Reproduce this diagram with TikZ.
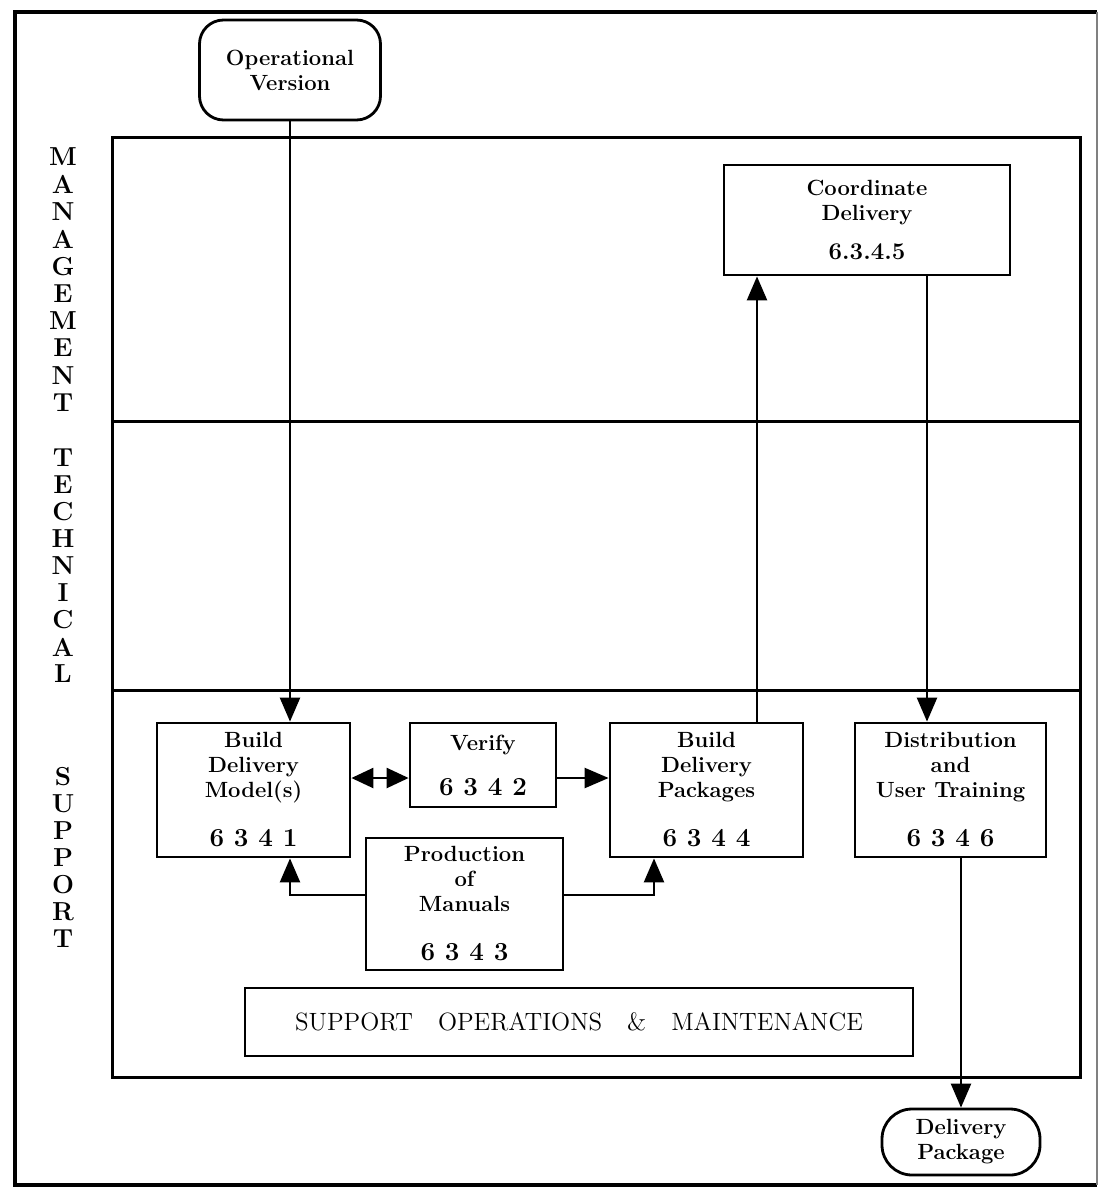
\documentclass[tikz,border=0pt]{standalone}
\usetikzlibrary{arrows.meta,calc}
\begin{document}
\begin{tikzpicture}[x=0.5pt,y=-0.5pt,
  frame/.style={line width=1.5pt},
  box/.style={draw,line width=1.4pt,align=center,inner sep=0pt,
    font=\fontsize{11}{12.5}\selectfont\bfseries},
  term/.style={box,rounded corners=12pt},
  flow/.style={line width=1.2pt,-{Triangle[length=12pt,width=10pt]}},
  both/.style={line width=1.2pt,
    {Triangle[length=11pt,width=10pt]}-{Triangle[length=11pt,width=10pt]}},
  side/.style={font=\fontsize{13}{14}\selectfont\bfseries,inner sep=0pt},
  num/.style={font=\fontsize{13}{14}\selectfont\bfseries}
]
\useasboundingbox (0,0) rectangle (1099,1189);
\newcommand{\pnum}[1]{{\fontsize{13}{14}\selectfont #1}}

% outer page frame
\draw[line width=2pt] (1097,12) -- (15,12) -- (15,1185) -- (1097,1185);
\draw[line width=0.6pt,gray] (1097,12) -- (1097,1185);

% swim lanes
\draw[frame] (112,137) rectangle (1080,1077);
\draw[frame] (112,421) -- (1080,421);
\draw[frame] (112,690) -- (1080,690);

% lane titles, one letter per row
\foreach \l [count=\i] in {M,A,N,A,G,E,M,E,N,T}
  \node[side] (lm\i) at (63,{157+27.3*(\i-1)}) {\l};
\foreach \l [count=\i] in {T,E,C,H,N,I,C,A,L}
  \node[side] (lt\i) at (63,{458+27*(\i-1)}) {\l};
\foreach \l [count=\i] in {S,U,P,P,O,R,T}
  \node[side] (ls\i) at (63,{777+27*(\i-1)}) {\l};

% terminals
\node[term,minimum width=90.5pt,minimum height=50pt] (opv) at (290,70)
  {Operational\\Version};
\node[term,rounded corners=15pt,minimum width=79pt,minimum height=33pt] (dp) at (961,1142)
  {Delivery\\Package};

% process boxes
\node[box,minimum width=143pt,minimum height=55pt] (coord) at (867,220)
  {Coordinate\\Delivery\\[7pt]{\fontsize{12}{13}\selectfont 6.3.4.5}};
\node[box,minimum width=96.5pt,minimum height=67pt] (bdm) at (253.5,790)
  {Build\\Delivery\\Model(s)\\[12pt]\pnum{6 3 4 1}};
\node[box,minimum width=73pt,minimum height=42pt] (ver) at (483,765)
  {Verify\\[10pt]\pnum{6 3 4 2}};
\node[box,minimum width=96.5pt,minimum height=67pt] (bdp) at (706.5,790)
  {Build\\Delivery\\Packages\\[12pt]\pnum{6 3 4 4}};
\node[box,minimum width=95.5pt,minimum height=67pt] (dist) at (950.5,790)
  {Distribution\\and\\User Training\\[12pt]\pnum{6 3 4 6}};
\node[box,minimum width=98.5pt,minimum height=66pt] (prod) at (464.5,904)
  {Production\\of\\Manuals\\[12pt]\pnum{6 3 4 3}};
\node[box,font=\fontsize{12.5}{14}\selectfont,minimum width=334pt,minimum height=34pt] (som) at (579,1022)
  {SUPPORT\quad OPERATIONS\quad \&\quad MAINTENANCE};

% flows
\draw[flow] (opv.south) -- (opv.south |- bdm.north);
\draw[flow] ($(bdp.north)+(50.5,0)$) coordinate (up) -- (up |- coord.south);
\draw[flow] ($(coord.south)+(60,0)$) coordinate (dn) -- (dn |- dist.north);
\draw[both] ($(bdm.east)+(0,-12)$) coordinate (d1) -- (d1 -| ver.west);
\draw[flow] ($(ver.east)+(0,13)$) coordinate (d2) -- (d2 -| bdp.west);
\draw[flow] ($(prod.west)+(0,-9)$) -| ($(bdm.south)+(36.5,0)$);
\draw[flow] ($(prod.east)+(0,-9)$) -| ($(bdp.south)+(-52.5,0)$);
\draw[flow] ($(dist.south)+(10.5,0)$) coordinate (out) -- (out |- dp.north);
\end{tikzpicture}
\end{document}
